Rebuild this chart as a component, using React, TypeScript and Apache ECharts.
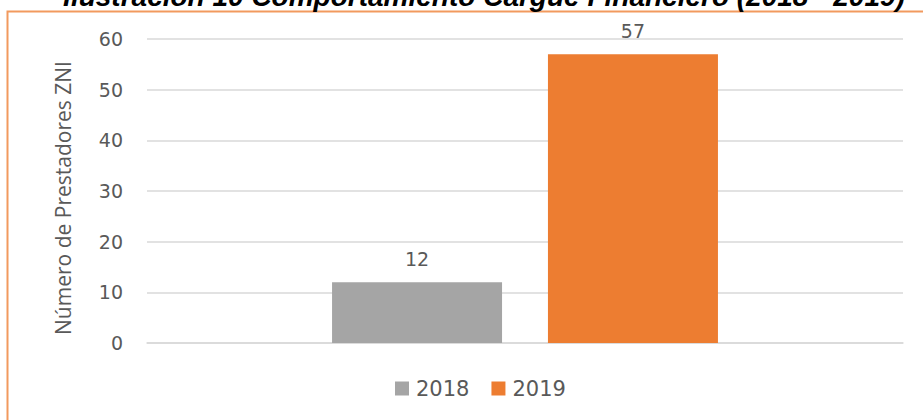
import React, { useEffect, useRef } from "react";
import * as echarts from "echarts";

const categories = [""];
const seriesNames = ["2018", "2019"];
const values2018 = [12];
const values2019 = [57];
const yTicks = { min: 0, max: 60, interval: 10 };
const titleText = "Ilustración 10 Comportamiento Cargue Financiero (2018 - 2019)";
const yAxisName = "Número de Prestadores ZNI";

export default function App() {
  const ref = useRef<HTMLDivElement>(null);
  useEffect(() => {
    document.body.style.margin = "0";
    const chart = echarts.init(ref.current!, null, { renderer: "svg" });
    const numFont = "'DejaVu Sans', sans-serif";
    chart.setOption({
      animation: false,
      backgroundColor: "#ffffff",
      graphic: [
        {
          type: "rect",
          shape: { x: 7.5, y: 11.5, width: 940, height: 440 },
          style: { fill: "none", stroke: "#F29A5E", lineWidth: 2 },
          silent: true,
        },
        {
          type: "text",
          x: 484,
          y: 10,
          style: {
            text: titleText,
            fontFamily: "'Liberation Sans', Arial, sans-serif",
            fontWeight: "bold",
            fontStyle: "italic",
            fontSize: 28,
            fill: "#000",
            align: "center",
            verticalAlign: "bottom",
          },
        },
      ],
      grid: { left: 147, right: 20, top: 39, bottom: 77, containLabel: false },
      legend: {
        data: seriesNames,
        bottom: 16,
        left: 390,
        itemWidth: 14,
        itemHeight: 14,
        itemGap: 22,
        icon: "rect",
        textStyle: { color: "#595959", fontSize: 21, fontFamily: numFont, padding: [0, 0, 0, 2] },
      },
      xAxis: {
        type: "category",
        data: categories,
        axisLine: { show: true, lineStyle: { color: "#D9D9D9", width: 1.5 } },
        axisTick: { show: false },
        axisLabel: { show: false },
      },
      yAxis: {
        type: "value",
        min: yTicks.min,
        max: yTicks.max,
        interval: yTicks.interval,
        name: yAxisName,
        nameLocation: "middle",
        nameGap: 74,
        nameTextStyle: { color: "#595959", fontSize: 21, fontFamily: "'Open Sans', sans-serif", padding: [0, 14, 0, 0] },
        axisLine: { show: false },
        axisTick: { show: false },
        axisLabel: { color: "#595959", fontSize: 19, fontFamily: numFont, margin: 24 },
        splitLine: { lineStyle: { color: "#D9D9D9", width: 1.5 } },
      },
      series: [
        {
          name: seriesNames[0],
          type: "bar",
          data: values2018,
          barWidth: 170,
          barGap: "27%",
          itemStyle: { color: "#A5A5A5" },
          label: { show: true, position: "top", distance: 14, color: "#595959", fontSize: 19, fontFamily: numFont },
        },
        {
          name: seriesNames[1],
          type: "bar",
          data: values2019,
          barWidth: 170,
          barGap: "27%",
          itemStyle: { color: "#ED7D31" },
          label: { show: true, position: "top", distance: 14, color: "#595959", fontSize: 19, fontFamily: numFont },
        },
      ],
    });
    return () => chart.dispose();
  }, []);
  return <div ref={ref} style={{ width: 923, height: 420, position: "absolute", left: 0, top: 0 }} />;
}
